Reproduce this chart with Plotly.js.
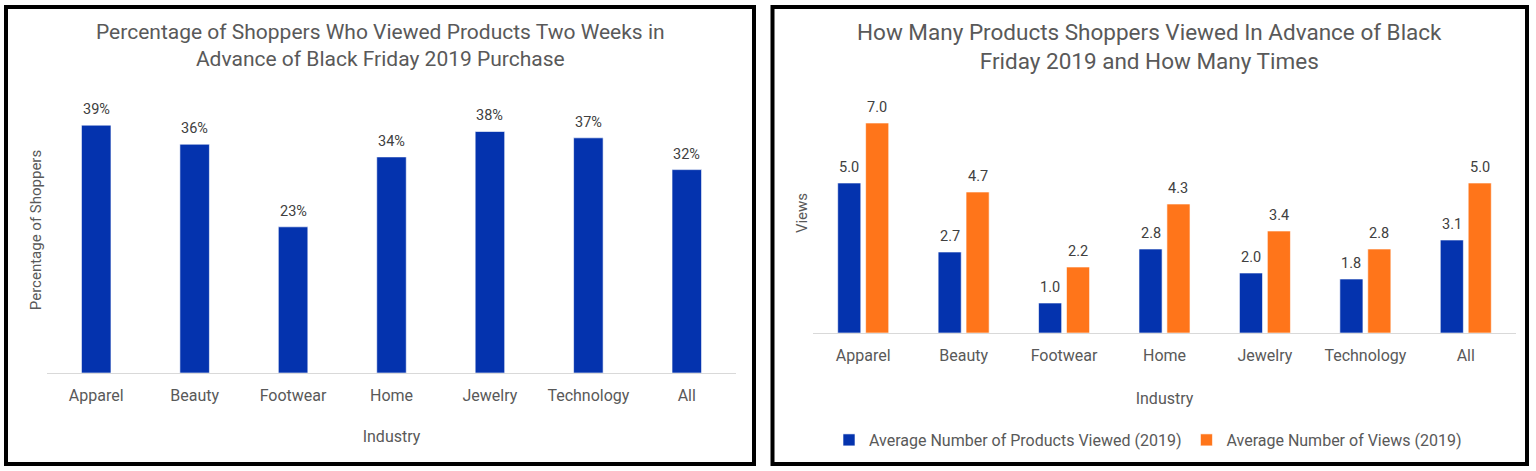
<!DOCTYPE html>
<html>
<head>
<meta charset="utf-8">
<script src="https://cdn.plot.ly/plotly-3.0.1.min.js"></script>
<style>
html,body{margin:0;padding:0;background:#fff;}
#chart{width:1536px;height:471px;}
</style>
</head>
<body>
<div id="chart"></div>
<script>
// Data
var industries = ["Apparel", "Beauty", "Footwear", "Home", "Jewelry", "Technology", "All"];
var pctShoppers = [39, 36, 23, 34, 38, 37, 32];
var avgProductsViewed = [5.0, 2.7, 1.0, 2.8, 2.0, 1.8, 3.1];
var avgViews = [7.0, 4.7, 2.2, 4.3, 3.4, 2.8, 5.0];

var leftTitle = "Percentage of Shoppers Who Viewed Products Two Weeks in<br>Advance of Black Friday 2019 Purchase";
var rightTitle = "How Many Products Shoppers Viewed In Advance of Black<br>Friday 2019 and How Many Times";

var W = 1536, H = 471;
function px(x){ return x / W; }
function py(y){ return 1 - y / H; }

var BLUE = "#0433AE";
var ORANGE = "#FF751A";
var FONT = "Roboto, 'Liberation Sans', sans-serif";
var LABEL_FONT = {family: FONT, size: 14.5, color: "#404040"};

// bar geometry (category units)
var W1 = 0.30;          // left chart bar width
var W2 = 0.23;          // right chart bar width
var C2 = 0.139;         // right chart bar centre offset from category centre

var outline = {color: "rgba(255,255,255,0.6)", width: 1};

var traces = [
  {
    type: "bar", x: industries, y: pctShoppers, xaxis: "x", yaxis: "y",
    width: W1, marker: {color: BLUE, line: outline},
    showlegend: false, hoverinfo: "x+y"
  },
  {
    type: "bar", name: "Average Number of Products Viewed (2019)",
    x: industries, y: avgProductsViewed, xaxis: "x2", yaxis: "y2",
    width: W2, offset: -C2 - W2 / 2,
    marker: {color: BLUE, line: outline}
  },
  {
    type: "bar", name: "Average Number of Views (2019)",
    x: industries, y: avgViews, xaxis: "x2", yaxis: "y2",
    width: W2, offset: C2 - W2 / 2,
    marker: {color: ORANGE, line: outline}
  }
];

var annotations = [];
industries.forEach(function(c, i){
  annotations.push({xref: "x", yref: "y", x: i, y: pctShoppers[i], text: pctShoppers[i] + "%",
    showarrow: false, yanchor: "bottom", yshift: 5, font: LABEL_FONT});
  annotations.push({xref: "x2", yref: "y2", x: i - C2, y: avgProductsViewed[i], text: avgProductsViewed[i].toFixed(1),
    showarrow: false, yanchor: "bottom", yshift: 5, font: LABEL_FONT});
  annotations.push({xref: "x2", yref: "y2", x: i + C2, y: avgViews[i], text: avgViews[i].toFixed(1),
    showarrow: false, yanchor: "bottom", yshift: 5, font: LABEL_FONT});
});
annotations.push(
  {xref: "paper", yref: "paper", x: px(380), y: py(46), xanchor: "center", yanchor: "middle",
   text: leftTitle, showarrow: false, align: "center",
   font: {family: FONT, size: 21, color: "#595959"}},
  {xref: "paper", yref: "paper", x: px(1149), y: py(47), xanchor: "center", yanchor: "middle",
   text: rightTitle, showarrow: false, align: "center",
   font: {family: FONT, size: 22.5, color: "#595959"}}
);

var axisFont = {family: FONT, size: 16, color: "#595959"};

var layout = {
  width: W, height: H,
  margin: {l: 0, r: 0, t: 0, b: 0},
  paper_bgcolor: "#fff", plot_bgcolor: "#fff",
  font: {family: FONT, color: "#595959"},
  barmode: "group",
  xaxis: {
    domain: [px(47), px(736)], anchor: "y",
    showline: true, linecolor: "#D9D9D9", linewidth: 1,
    ticks: "", tickfont: axisFont, ticklabelstandoff: 8, showgrid: false, zeroline: false,
    title: {text: "Industry", font: axisFont, standoff: 26}
  },
  yaxis: {
    domain: [py(373), py(87)], anchor: "x", range: [0, 45],
    showticklabels: false, showgrid: false, zeroline: false, ticks: "",
    title: {text: "Percentage of Shoppers", font: {family: FONT, size: 15, color: "#595959"}, standoff: 0}
  },
  xaxis2: {
    domain: [px(813), px(1516)], anchor: "y2",
    showline: true, linecolor: "#D9D9D9", linewidth: 1,
    ticks: "", tickfont: axisFont, ticklabelstandoff: 8, showgrid: false, zeroline: false,
    title: {text: "Industry", font: axisFont, standoff: 28}
  },
  yaxis2: {
    domain: [py(333), py(93)], anchor: "x2", range: [0, 8],
    showticklabels: false, showgrid: false, zeroline: false, ticks: "",
    title: {text: "Views", font: {family: FONT, size: 15, color: "#595959"}, standoff: 0}
  },
  legend: {
    orientation: "h", x: px(1148), xanchor: "center", y: py(440), yanchor: "middle",
    font: {family: FONT, size: 16, color: "#595959"},
    itemwidth: 30, traceorder: "normal", bgcolor: "rgba(0,0,0,0)"
  },
  showlegend: true,
  annotations: annotations,
  shapes: [
    {type: "rect", xref: "paper", yref: "paper", x0: px(6), x1: px(754), y0: py(7), y1: py(464),
     line: {color: "#000", width: 4}},
    {type: "rect", xref: "paper", yref: "paper", x0: px(772.5), x1: px(1527), y0: py(7), y1: py(464),
     line: {color: "#000", width: 4}}
  ]
};

Plotly.newPlot("chart", traces, layout, {displayModeBar: false, staticPlot: true});
</script>
</body>
</html>
